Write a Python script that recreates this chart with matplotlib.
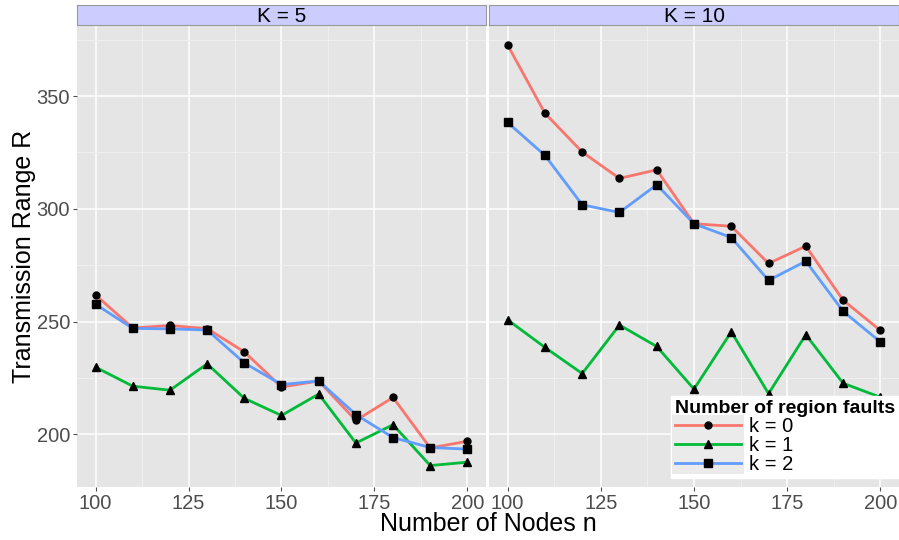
import matplotlib
matplotlib.use("Agg")
import matplotlib.pyplot as plt
from matplotlib.ticker import MultipleLocator
from matplotlib.patches import Rectangle
from matplotlib.legend_handler import HandlerLine2D

plt.rcParams['font.family'] = ['Liberation Sans', 'DejaVu Sans']

nodes = [100, 110, 120, 130, 140, 150, 160, 170, 180, 190, 200]

# K = 5 panel
k5_f0 = [261.8, 247.2, 248.3, 246.9, 236.6, 221.0, 223.7, 206.2, 216.4, 194.0, 197.0]
k5_f1 = [229.8, 221.4, 219.6, 231.3, 216.0, 208.4, 217.9, 196.2, 204.3, 186.2, 187.7]
k5_f2 = [257.7, 247.0, 246.8, 246.3, 231.7, 222.1, 223.7, 208.8, 198.6, 194.2, 193.5]

# K = 10 panel
k10_f0 = [372.6, 342.4, 325.2, 313.5, 317.3, 293.4, 292.3, 275.8, 283.5, 259.5, 246.1]
k10_f1 = [250.8, 238.6, 227.0, 248.5, 239.0, 220.1, 245.5, 218.1, 244.2, 222.7, 216.5]
k10_f2 = [338.3, 323.7, 301.8, 298.4, 310.7, 293.4, 287.3, 268.3, 276.8, 254.6, 241.0]

panels = [("K = 5", [k5_f0, k5_f1, k5_f2]), ("K = 10", [k10_f0, k10_f1, k10_f2])]
series_labels = ["k = 0", "k = 1", "k = 2"]
colors = ["#F8766D", "#00BA38", "#619CFF"]
markers = ["o", "^", "s"]
msizes = [5, 6, 5.5]

W, H = 899, 540
fig = plt.figure(figsize=(W / 100, H / 100), dpi=100)

def fx(px):
    return px / W

def fy(py):
    return 1 - py / H


class KeyHandler(HandlerLine2D):
    # grey key background like ggplot legends
    def create_artists(self, legend, orig_handle, xdescent, ydescent,
                       width, height, fontsize, trans):
        arts = super().create_artists(legend, orig_handle, xdescent, ydescent,
                                      width, height, fontsize, trans)
        pad = 0.2 * fontsize
        r = Rectangle((-xdescent - 2, -ydescent - pad), width + 4,
                      height + 2 * pad - 1, facecolor="#EBEBEB",
                      edgecolor="none", transform=trans)
        return [r] + arts


panel_x = [(77, 486), (489, 899)]
top, bottom, strip_top = 25, 487, 5

axes = []
for i, (title, data) in enumerate(panels):
    x0, x1 = panel_x[i]
    ax = fig.add_axes([fx(x0), fy(bottom), fx(x1 - x0), (bottom - top) / H])
    ax.set_facecolor("#E5E5E5")
    for s in ax.spines.values():
        s.set_visible(False)
    ax.set_xlim(95, 205)
    ax.set_ylim(176.7, 381.5)
    ax.xaxis.set_major_locator(MultipleLocator(25))
    ax.xaxis.set_minor_locator(MultipleLocator(12.5))
    ax.yaxis.set_major_locator(MultipleLocator(50))
    ax.yaxis.set_minor_locator(MultipleLocator(25))
    ax.grid(which="major", color="white", linewidth=1.1)
    ax.grid(which="minor", color="#F2F2F2", linewidth=0.6)
    ax.set_axisbelow(True)
    ax.tick_params(which="minor", length=0)
    ax.tick_params(which="major", length=3, width=0.8, color="#4D4D4D",
                   labelcolor="#4D4D4D", labelsize=14.5, pad=2)
    if i > 0:
        ax.tick_params(axis="y", which="both", left=False, labelleft=False)
    for vals, c, m, ms, lab in zip(data, colors, markers, msizes, series_labels):
        ax.plot(nodes, vals, color=c, linewidth=2, marker=m, markersize=ms,
                markerfacecolor="black", markeredgecolor="black", label=lab,
                zorder=3)
    # strip header
    sax = fig.add_axes([fx(x0), fy(top), fx(x1 - x0), (top - strip_top) / H])
    sax.set_facecolor("#CCCCFF")
    sax.set_xticks([])
    sax.set_yticks([])
    for s in sax.spines.values():
        s.set_color("#999999")
        s.set_linewidth(0.8)
    sax.text(0.5, 0.45, title, ha="center", va="center", fontsize=15,
             transform=sax.transAxes)
    axes.append(ax)

fig.text(fx(488), fy(524), "Number of Nodes n", ha="center", va="center",
         fontsize=18)
fig.text(fx(24), fy(256), "Transmission Range R", ha="center", va="center",
         fontsize=18, rotation=90)

leg = axes[1].legend(loc="lower right", bbox_to_anchor=(1.0, fy(478)),
                     bbox_transform=fig.transFigure, borderaxespad=0,
                     title="Number of region faults", fontsize=14.5,
                     title_fontproperties={"weight": "bold", "size": 14},
                     frameon=True, fancybox=False, edgecolor="white",
                     framealpha=1, handlelength=3.3, handletextpad=0.4,
                     labelspacing=0.0, borderpad=0.2,
                     handler_map={plt.Line2D: KeyHandler()})
leg._legend_box.align = "left"

fig.savefig("out.png", dpi=100)
